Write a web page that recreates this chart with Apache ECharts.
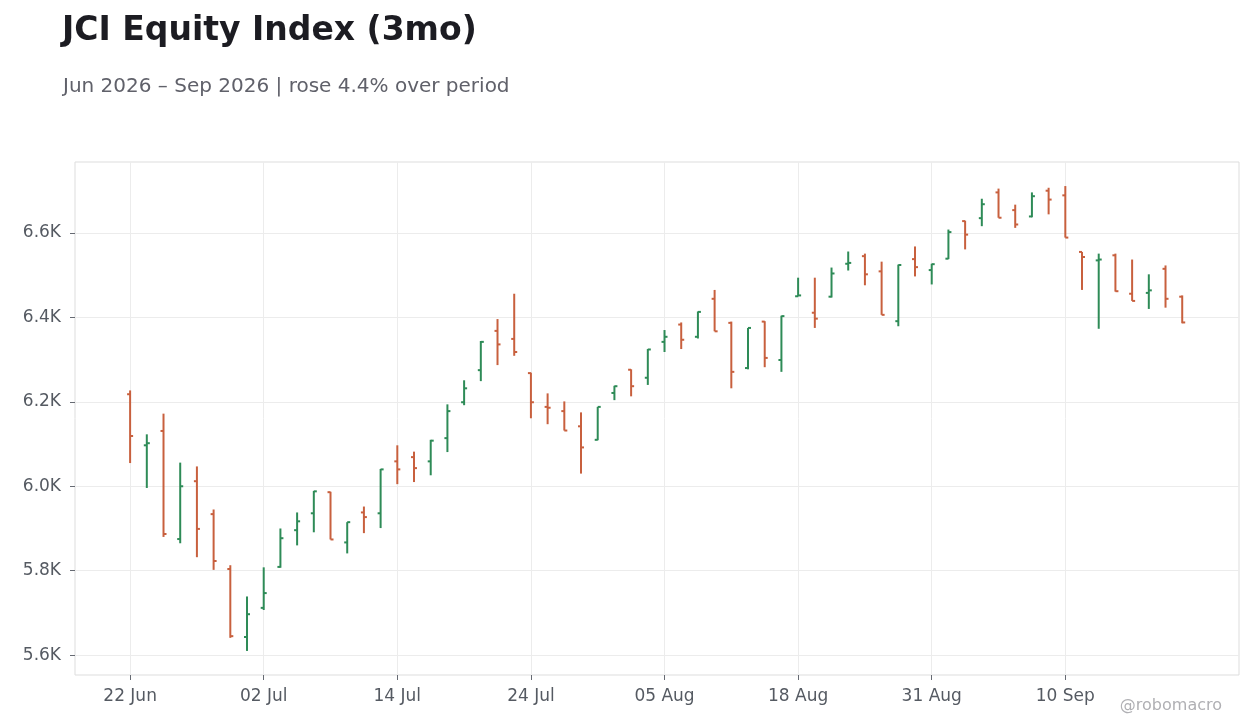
<!DOCTYPE html>
<html>
<head>
<meta charset="utf-8">
<script src="https://cdn.jsdelivr.net/npm/echarts@6/dist/echarts.min.js"></script>
<style>
  html, body { margin: 0; padding: 0; background: #ffffff; }
  #chart_container { width: 1260px; height: 728px; }
</style>
</head>
<body>
<div id="chart_container"></div>
<script>
// trading days (category labels)
var dates = [
  '22 Jun','23 Jun','24 Jun','25 Jun','26 Jun','29 Jun','30 Jun','01 Jul','02 Jul',
  '03 Jul','06 Jul','07 Jul','08 Jul','09 Jul','10 Jul','13 Jul','14 Jul',
  '15 Jul','16 Jul','17 Jul','20 Jul','21 Jul','22 Jul','23 Jul','24 Jul',
  '27 Jul','28 Jul','29 Jul','30 Jul','31 Jul','03 Aug','04 Aug','05 Aug',
  '06 Aug','07 Aug','10 Aug','11 Aug','13 Aug','14 Aug','17 Aug','18 Aug',
  '19 Aug','20 Aug','21 Aug','24 Aug','25 Aug','27 Aug','28 Aug','31 Aug',
  '01 Sep','02 Sep','03 Sep','04 Sep','07 Sep','08 Sep','09 Sep','10 Sep',
  '11 Sep','14 Sep','15 Sep','16 Sep','17 Sep','18 Sep','21 Sep'
];
var opens = [
  6218,6097,6131,5875,6012,5934,5804,5643,5712,5809,5896,5936,5986,5867,5938,5936,
  6059,6069,6059,6114,6199,6275,6368,6349,6268,6188,6178,6142,6110,6221,6276,6257,
  6342,6383,6354,6444,6387,6280,6390,6299,6450,6411,6449,6527,6545,6509,6391,6538,
  6512,6539,6628,6635,6696,6654,6639,6700,6689,6555,6535,6547,6456,6458,6515,6449
];
var highs = [
  6227,6123,6172,6056,6047,5945,5813,5739,5808,5900,5938,5989,5987,5915,5952,6041,
  6097,6082,6110,6194,6251,6344,6396,6456,6269,6220,6201,6175,6188,6238,6277,6325,
  6370,6388,6414,6465,6390,6375,6391,6404,6494,6494,6518,6556,6551,6532,6525,6568,
  6527,6608,6629,6681,6705,6667,6696,6707,6711,6555,6551,6551,6537,6502,6523,6452
];
var lows = [
  6055,5996,5880,5865,5832,5802,5641,5610,5707,5807,5860,5891,5874,5841,5889,5901,
  6005,6010,6026,6081,6192,6249,6287,6309,6161,6147,6132,6030,6109,6204,6213,6240,
  6318,6325,6350,6367,6232,6277,6282,6271,6450,6375,6447,6511,6476,6406,6379,6497,
  6478,6538,6561,6616,6636,6612,6637,6644,6589,6465,6373,6461,6439,6420,6423,6386
];
var closes = [
  6119,6102,5887,6000,5899,5823,5645,5697,5747,5877,5917,5988,5874,5915,5927,6040,
  6040,6043,6108,6178,6232,6342,6336,6318,6199,6186,6132,6092,6188,6237,6237,6324,
  6354,6347,6413,6367,6271,6375,6304,6403,6452,6397,6504,6529,6502,6406,6524,6519,
  6526,6602,6596,6668,6636,6620,6687,6679,6589,6543,6537,6462,6439,6464,6444,6388
];
var xTicks = [0, 8, 16, 24, 32, 40, 48, 56];
var yTicks = [5600, 5800, 6000, 6200, 6400, 6600];

var upColor = '#2e8b57';
var downColor = '#c8603e';
var font = 'DejaVu Sans';

var ohlc = dates.map(function (d, i) {
  return [i, opens[i], closes[i], lows[i], highs[i]];
});

var chart = echarts.init(document.getElementById('chart_container'));

function renderBar(params, api) {
  var x = api.value(0);
  var o = api.coord([x, api.value(1)]);
  var c = api.coord([x, api.value(2)]);
  var l = api.coord([x, api.value(3)]);
  var h = api.coord([x, api.value(4)]);
  var color = api.value(2) >= api.value(1) ? upColor : downColor;
  var st = { stroke: color, lineWidth: 2 };
  return {
    type: 'group',
    children: [
      { type: 'line', shape: { x1: h[0], y1: h[1], x2: l[0], y2: l[1] }, style: st },
      { type: 'line', shape: { x1: o[0] - 3, y1: o[1], x2: o[0], y2: o[1] }, style: st },
      { type: 'line', shape: { x1: c[0], y1: c[1], x2: c[0] + 3, y2: c[1] }, style: st }
    ]
  };
}

var option = {
  backgroundColor: '#ffffff',
  animation: false,
  title: [
    {
      text: 'JCI Equity Index (3mo)',
      left: 62, top: 15, padding: 0,
      textStyle: { fontFamily: font, fontSize: 33, fontWeight: 'bold', color: '#1c1c22' }
    },
    {
      text: 'Jun 2026 \u2013 Sep 2026 | rose 4.4% over period',
      left: 63, top: 77, padding: 0,
      textStyle: { fontFamily: font, fontSize: 20, fontWeight: 'normal', color: '#60616a' }
    }
  ],
  graphic: [{
    type: 'text', right: 38, bottom: 14,
    style: { text: '@robomacro', fill: '#b0b0b4', font: '16px "DejaVu Sans"' }
  }],
  grid: {
    left: 75, right: 21, top: 162, bottom: 53,
    show: true, borderColor: '#dddddd', borderWidth: 1, backgroundColor: '#ffffff'
  },
  xAxis: {
    type: 'value',
    min: -3.3, max: 66.4,
    axisLine: { show: false, onZero: false },
    axisTick: { show: true, customValues: xTicks, length: 5, lineStyle: { color: '#666a72' } },
    axisLabel: {
      customValues: xTicks, margin: 13,
      fontFamily: font, fontSize: 17, color: '#555a62',
      formatter: function (v) { return dates[v]; }
    },
    splitLine: { show: true, lineStyle: { color: '#ececec' } }
  },
  yAxis: {
    type: 'value',
    min: 5553, max: 6768,
    axisLine: { show: false, onZero: false },
    axisTick: { show: true, customValues: yTicks, length: 5, lineStyle: { color: '#666a72' } },
    axisLabel: {
      customValues: yTicks, margin: 14,
      fontFamily: font, fontSize: 17, color: '#555a62',
      formatter: function (v) { return (v / 1000).toFixed(1) + 'K'; }
    },
    splitLine: { show: true, lineStyle: { color: '#ececec' } }
  },
  series: [{
    type: 'custom',
    name: 'JCI',
    renderItem: renderBar,
    encode: { x: 0, y: [1, 2, 3, 4] },
    data: ohlc
  }]
};
chart.setOption(option);
</script>
</body>
</html>
